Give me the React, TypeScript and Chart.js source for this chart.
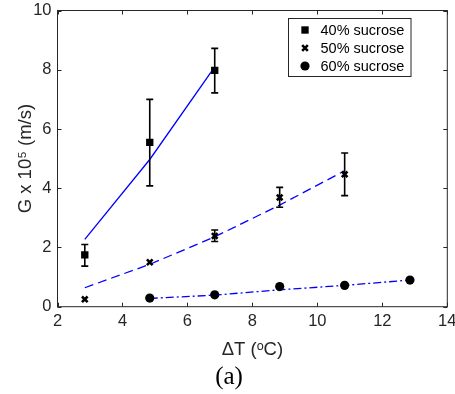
import React, { useEffect, useRef } from "react";
import { Chart, registerables } from "chart.js";
import { drawPoint } from "chart.js/helpers";

Chart.register(...registerables);

const seriesLabels = ["40% sucrose", "50% sucrose", "60% sucrose"];
const x40 = [2.84, 4.84, 6.84];
const g40 = [1.75, 5.55, 7.98];
const g40Low = [1.37, 4.08, 7.22];
const g40High = [2.1, 7.0, 8.72];
const x50 = [2.84, 4.84, 6.84, 8.84, 10.84];
const g50 = [0.25, 1.5, 2.39, 3.69, 4.47];
const g50Low = [null, null, 2.2, 3.36, 3.75];
const g50High = [null, null, 2.59, 4.03, 5.19];
const x60 = [4.84, 6.84, 8.84, 10.84, 12.85];
const g60 = [0.29, 0.4, 0.68, 0.72, 0.9];
const fit40 = [2.27, 4.97, 8.1];
const fit50 = [0.64, 1.43, 2.36, 3.43, 4.59];
const fit60 = [0.28, 0.39, 0.57, 0.72, 0.9];
const xTicks = [2, 4, 6, 8, 10, 12, 14];
const yTicks = [0, 2, 4, 6, 8, 10];
const xTitle = "ΔT (ᵒC)";
const yTitle = "G x 10⁵ (m/s)";
const panelLabel = "(a)";

const AXIS = "#262626";
const BLUE = "#0000ff";
const SANS = "'Liberation Sans', Arial, Helvetica, sans-serif";

const pts = (xs: number[], ys: (number | null)[]) => xs.map((x, i) => ({ x, y: ys[i] }));

const errorSets = [
  { xs: x40, low: g40Low, high: g40High },
  { xs: x50, low: g50Low, high: g50High },
];

const framePlugin = {
  id: "frame",
  afterDatasetsDraw(chart: any) {
    const { ctx, chartArea: a, scales } = chart;
    const xs = scales.x;
    const ys = scales.y;
    ctx.save();
    // error bars
    ctx.strokeStyle = "#000";
    ctx.lineWidth = 1.6;
    errorSets.forEach((s) => {
      s.xs.forEach((xv, i) => {
        const lo = s.low[i];
        const hi = s.high[i];
        if (lo == null || hi == null) return;
        const px = xs.getPixelForValue(xv);
        const pl = ys.getPixelForValue(lo);
        const ph = ys.getPixelForValue(hi);
        ctx.beginPath();
        ctx.moveTo(px, pl);
        ctx.lineTo(px, ph);
        ctx.moveTo(px - 3.5, pl);
        ctx.lineTo(px + 3.5, pl);
        ctx.moveTo(px - 3.5, ph);
        ctx.lineTo(px + 3.5, ph);
        ctx.stroke();
      });
    });
    // box
    ctx.strokeStyle = AXIS;
    ctx.lineWidth = 1;
    ctx.strokeRect(a.left, a.top, a.right - a.left, a.bottom - a.top);
    const tl = 4;
    ctx.beginPath();
    xTicks.forEach((v) => {
      const px = Math.round(xs.getPixelForValue(v)) + 0.5;
      ctx.moveTo(px, a.bottom);
      ctx.lineTo(px, a.bottom - tl);
      ctx.moveTo(px, a.top);
      ctx.lineTo(px, a.top + tl);
    });
    yTicks.forEach((v) => {
      const py = Math.round(ys.getPixelForValue(v)) + 0.5;
      ctx.moveTo(a.left, py);
      ctx.lineTo(a.left + tl, py);
      ctx.moveTo(a.right, py);
      ctx.lineTo(a.right - tl, py);
    });
    ctx.stroke();
    // legend
    const lx = 288.5, ly = 18.5, lw = 122.5, lh = 58;
    ctx.fillStyle = "#fff";
    ctx.fillRect(lx, ly, lw, lh);
    ctx.strokeStyle = AXIS;
    ctx.lineWidth = 1;
    ctx.strokeRect(lx, ly, lw, lh);
    ctx.font = `14.5px ${SANS}`;
    ctx.textBaseline = "middle";
    ctx.textAlign = "left";
    for (let i = 0; i < 3; i++) {
      const ds = chart.data.datasets[i];
      const cy = ly + 11.5 + i * 18;
      ctx.fillStyle = "#000";
      ctx.strokeStyle = "#000";
      ctx.lineWidth = ds.borderWidth;
      drawPoint(ctx, { pointStyle: ds.pointStyle, radius: ds.pointRadius, rotation: 0, borderWidth: ds.borderWidth }, 305, cy);
      ctx.fillStyle = "#000";
      ctx.fillText(ds.label, 320.5, cy + 0.5);
    }
    // panel label
    ctx.font = `25px 'Liberation Serif', 'Times New Roman', serif`;
    ctx.textAlign = "center";
    ctx.fillStyle = "#000";
    ctx.fillText(panelLabel, 229, 377);
    ctx.restore();
  },
};

export default function App() {
  const ref = useRef<HTMLCanvasElement>(null);
  useEffect(() => {
    if (!ref.current) return;
    const chart = new Chart(ref.current, {
      type: "scatter",
      data: {
        datasets: [
          { label: seriesLabels[0], data: pts(x40, g40), pointStyle: "rect", pointRadius: 5.2, borderWidth: 0, backgroundColor: "#000", borderColor: "#000", showLine: false },
          { label: seriesLabels[1], data: pts(x50, g50), pointStyle: "crossRot", pointRadius: 4, borderWidth: 2.6, backgroundColor: "#000", borderColor: "#000", showLine: false },
          { label: seriesLabels[2], data: pts(x60, g60), pointStyle: "circle", pointRadius: 4.6, borderWidth: 0, backgroundColor: "#000", borderColor: "#000", showLine: false },
          { label: "fit40", data: pts(x40, fit40), showLine: true, pointRadius: 0, borderColor: BLUE, borderWidth: 1.3, backgroundColor: BLUE },
          { label: "fit50", data: pts(x50, fit50), showLine: true, pointRadius: 0, borderColor: BLUE, borderWidth: 1.3, borderDash: [9, 5], backgroundColor: BLUE },
          { label: "fit60", data: pts(x60, fit60), showLine: true, pointRadius: 0, borderColor: BLUE, borderWidth: 1.3, borderDash: [8, 3, 2, 3], backgroundColor: BLUE },
        ],
      },
      options: {
        animation: false,
        responsive: false,
        devicePixelRatio: 1,
        layout: { padding: { top: 10.5, right: 7.7, left: 0, bottom: 0 } },
        plugins: { legend: { display: false }, tooltip: { enabled: false } },
        scales: {
          x: {
            type: "linear",
            min: 2,
            max: 14,
            afterBuildTicks: (s: any) => { s.ticks = xTicks.map((v) => ({ value: v })); },
            afterFit: (s: any) => { s.height = 394 - 306.7; s.paddingLeft = 0; s.paddingRight = 0; },
            grid: { display: false, drawTicks: false },
            border: { display: false },
            ticks: { color: AXIS, font: { family: SANS, size: 16.5 }, padding: 5, maxRotation: 0 },
            title: { display: true, text: xTitle, color: AXIS, font: { family: SANS, size: 18.5 }, padding: { top: 0, bottom: 33 } },
          },
          y: {
            type: "linear",
            min: 0,
            max: 10,
            afterBuildTicks: (s: any) => { s.ticks = yTicks.map((v) => ({ value: v })); },
            afterFit: (s: any) => { s.width = 57.5; s.paddingTop = 0; s.paddingBottom = 0; },
            grid: { display: false, drawTicks: false },
            border: { display: false },
            ticks: { color: AXIS, font: { family: SANS, size: 16.5 }, padding: 6 },
            title: { display: true, text: yTitle, color: AXIS, font: { family: SANS, size: 18.5 }, padding: { top: 15, bottom: 0 } },
          },
        },
      },
      plugins: [framePlugin],
    } as any);
    return () => chart.destroy();
  }, []);
  return (
    <div style={{ position: "absolute", left: 0, top: 0, width: 455, height: 394, background: "#fff" }}>
      <canvas ref={ref} width={455} height={394} style={{ display: "block" }} />
    </div>
  );
}
